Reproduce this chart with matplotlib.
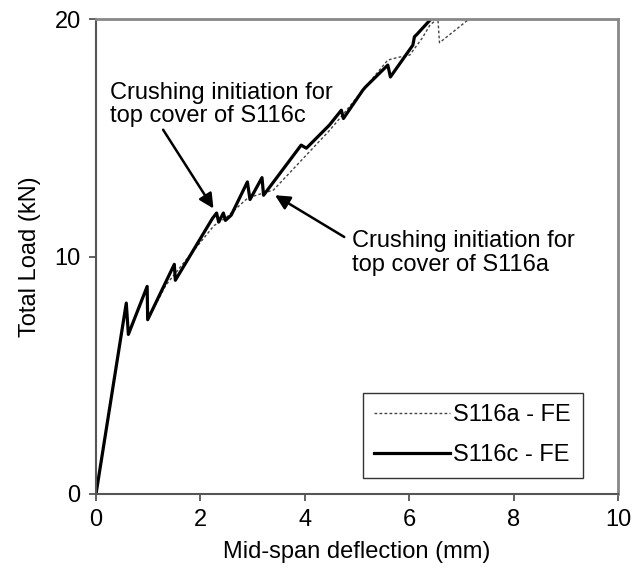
import matplotlib
matplotlib.use('Agg')
import matplotlib.pyplot as plt

plt.rcParams['font.family'] = ['Liberation Sans', 'DejaVu Sans']

# S116c - FE (solid)
c_defl = [0, 0.58, 0.62, 0.98, 0.99, 1.50, 1.52, 2.23, 2.31, 2.35, 2.44, 2.48, 2.59,
          2.90, 2.95, 3.18, 3.21, 3.93, 4.03, 4.47, 4.70, 4.74, 5.11, 5.16, 5.59,
          5.64, 6.07, 6.10, 6.15, 6.46]
c_load = [0, 8.04, 6.72, 8.74, 7.34, 9.67, 9.00, 11.60, 11.83, 11.45, 11.83, 11.52, 11.74,
          13.14, 12.40, 13.32, 12.58, 14.69, 14.56, 15.53, 16.16, 15.81, 17.00, 17.13, 18.06,
          17.56, 18.90, 19.25, 19.36, 20.10]

# S116a - FE (dashed)
a_defl = [0, 0.58, 0.62, 0.98, 0.99, 1.34, 1.72, 2.26, 2.50, 2.90, 3.10, 3.40, 4.47,
          4.74, 5.11, 5.59, 5.78, 6.01, 6.25, 6.40, 6.55, 6.58, 7.16]
a_load = [0, 8.04, 6.72, 8.74, 7.34, 8.80, 9.84, 11.30, 11.65, 12.45, 12.60, 12.80, 15.30,
          16.00, 17.00, 18.27, 18.38, 18.48, 19.20, 19.75, 20.02, 19.00, 20.02]

x_ticks = [0, 2, 4, 6, 8, 10]
y_ticks = [0, 10, 20]

fs = 17

fig = plt.figure(figsize=(6.33, 5.71), dpi=100)
ax = fig.add_axes([96 / 633, 1 - 494 / 571, 522 / 633, 475 / 571])

ax.plot(a_defl, a_load, color='#444444', lw=1.0, ls=(0, (2, 1.6)), label='S116a - FE')
ax.plot(c_defl, c_load, color='black', lw=2.3, label='S116c - FE')

ax.set_xlim(0, 10)
ax.set_ylim(0, 20)
ax.set_xticks(x_ticks)
ax.set_yticks(y_ticks)
ax.tick_params(direction='out', length=5, width=1.3, colors='#555555', labelcolor='black',
               labelsize=fs, pad=6)

for side in ['left', 'bottom']:
    ax.spines[side].set_color('#555555')
    ax.spines[side].set_linewidth(1.5)
for side in ['top', 'right']:
    ax.spines[side].set_color('#888888')
    ax.spines[side].set_linewidth(2)

ax.set_xlabel('Mid-span deflection (mm)', fontsize=fs, labelpad=7)
ax.set_ylabel('Total Load (kN)', fontsize=fs, labelpad=10)

ax.annotate('Crushing initiation for\ntop cover of S116c', xy=(2.25, 12.02), xytext=(0.27, 16.4),
            fontsize=fs, ha='left', va='center', linespacing=1.05,
            arrowprops=dict(arrowstyle='-|>', color='black', lw=1.8, mutation_scale=22,
                            shrinkA=0, shrinkB=0, relpos=(0.23, 0.0)))
ax.annotate('Crushing initiation for\ntop cover of S116a', xy=(3.43, 12.58), xytext=(4.90, 10.15),
            fontsize=fs, ha='left', va='center', linespacing=1.1,
            arrowprops=dict(arrowstyle='-|>', color='black', lw=1.8, mutation_scale=22,
                            shrinkA=4, shrinkB=0, relpos=(0.0, 0.75)))

leg = ax.legend(loc='lower right', bbox_to_anchor=(0.933, 0.034), fontsize=fs, frameon=True,
                fancybox=False, edgecolor='black', handlelength=3.2, handletextpad=0.15,
                borderpad=0.5, labelspacing=0.75, borderaxespad=0)
leg.get_frame().set_linewidth(1.0)

fig.savefig('out.png', dpi=100)
